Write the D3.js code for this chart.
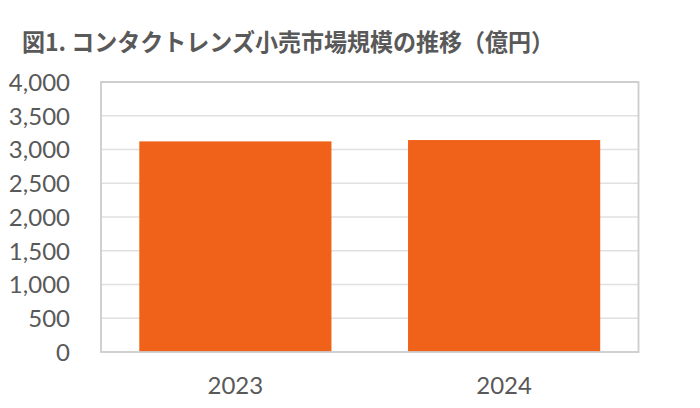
<!DOCTYPE html>
<html><head><meta charset="utf-8">
<script src="https://cdn.jsdelivr.net/npm/d3@7"></script>
<style>body{margin:0;background:#fff;} svg{display:block;}</style>
</head><body>
<svg id="c" width="700" height="408"></svg>
<script>
const title = "図1. コンタクトレンズ小売市場規模の推移（億円）";
const categories = ["2023", "2024"];
const values = [3120, 3140];
const yTicks = [0, 500, 1000, 1500, 2000, 2500, 3000, 3500, 4000];

const svg = d3.select("#c");
svg.append("rect").attr("width",700).attr("height",408).attr("fill","#fff");
const L = 101, R = 638.5, T = 82, B = 352;

const x = d3.scaleBand().domain(categories).range([L, R]).paddingInner(0.285).paddingOuter(0.1425);
const y = d3.scaleLinear().domain([0, 4000]).range([B, T]);

svg.append("text").attr("x", 22).attr("y", 51)
  .attr("font-family", "'Noto Sans CJK JP', sans-serif").attr("font-weight", "bold")
  .attr("font-size", 24).attr("fill", "#595959")
  .attr("textLength", 532).attr("lengthAdjust", "spacingAndGlyphs").text(title);

// gridlines
svg.append("g").selectAll("line").data(yTicks.filter(d => d > 0)).join("line")
  .attr("x1", L).attr("x2", R).attr("y1", d => y(d)).attr("y2", d => y(d))
  .attr("stroke", "#e0e0e0").attr("stroke-width", 1.5);

// bars
svg.append("g").selectAll("rect").data(values).join("rect")
  .attr("x", (d, i) => x(categories[i])).attr("width", x.bandwidth())
  .attr("y", d => y(d)).attr("height", d => y(0) - y(d))
  .attr("fill", "#f0611a");

// plot border
svg.append("rect").attr("x", L).attr("y", T).attr("width", R - L).attr("height", B - T)
  .attr("fill", "none").attr("stroke", "#cccccc").attr("stroke-width", 1.8);

// y axis
const yAxis = d3.axisLeft(y).tickValues(yTicks).tickFormat(d3.format(",")).tickSize(0).tickPadding(0);
const gy = svg.append("g").attr("transform", `translate(70,0)`).call(yAxis);
gy.select(".domain").remove();
gy.selectAll("text").attr("font-family", "Lato, sans-serif").attr("font-size", 24)
  .attr("fill", "#595959").attr("dy", "0.35em");

// x axis
const xAxis = d3.axisBottom(x).tickSize(0).tickPadding(0);
const gx = svg.append("g").attr("transform", `translate(0,377)`).call(xAxis);
gx.select(".domain").remove();
gx.selectAll("text").attr("font-family", "Lato, sans-serif").attr("font-size", 24)
  .attr("fill", "#595959").attr("dy", "0.71em");
</script>
</body></html>
